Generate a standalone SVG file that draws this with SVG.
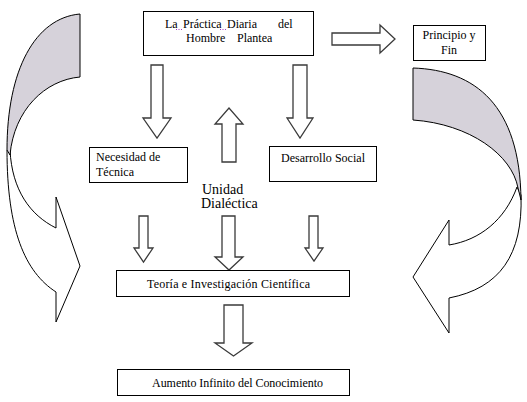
<svg xmlns="http://www.w3.org/2000/svg" width="527" height="402" viewBox="0 0 527 402">
<style>
.box{fill:#fff;stroke:#000;stroke-width:1}
.blk{fill:#fff;stroke:#3a3a3a;stroke-width:1.3;stroke-linejoin:miter}
.crv{fill:#fff;stroke:#000;stroke-width:1}
.back{fill:#d6d2da;stroke:#000;stroke-width:1}
text{font-family:'Liberation Serif','DejaVu Serif','Times New Roman',serif;font-size:12px;fill:#000}
.big{font-size:14px}
.dot{stroke:#a040c0;stroke-width:1;stroke-dasharray:1,1.5}
</style>
<rect width="527" height="402" fill="#fff"/>
<g id="curves">
<g id="left-curved-arrow">
<path class="crv" d="M7,150 C7,230 25,272 56,292 L56,322 L80,266 L56,197 L56,228 C30,215 12,190 10,150 Z"/>
<path class="back" d="M80,14 C35,18 7,70 7,150 L10,155 C14,110 45,80 80,77 Z"/>
</g>
<g id="right-curved-arrow">
<path class="crv" d="M521,195 C523,255 500,288 449,298 L449,333 L413,277 L449,220 L449,245 C480,240 505,220 517,187 Z"/>
<path class="back" d="M413,68 C475,70 520,105 521,200 L518,188 C512,155 470,124 413,120 Z"/>
</g>
</g>
<g id="connectors">
<path class="blk" d="M151,65 H163 V118 H171 L157,138 L143,118 H151 Z"/>
<path class="blk" d="M293,65 H307 V118 H313 L300,138 L287,118 H293 Z"/>
<path class="blk" d="M222,162 V124 H215 L229,108 L243,124 H236 V162 Z"/>
<path class="blk" d="M332,33 H380 V25 L395,39 L380,53 V45 H332 Z"/>
<path class="blk" d="M139,216 H148 V248 H153 L143.5,262 L134,248 H139 Z"/>
<path class="blk" d="M222,216 H235 V257 H243 L229,270 L215,257 H222 Z"/>
<path class="blk" d="M309,216 H318 V248 H323 L314,261 L305,248 H309 Z"/>
<path class="blk" d="M224,305 H243 V343 H252 L233.5,356 L215,343 H224 Z"/>
</g>
<g id="node-practica">
<rect class="box" x="143.5" y="11.5" width="170" height="44"/>
<text x="165" y="28" font-family="Liberation Serif, serif">La</text>
<text x="183" y="28" font-family="Liberation Serif, serif">Práctica</text>
<text x="227" y="28" font-family="Liberation Serif, serif">Diaria</text>
<text x="278" y="28" font-family="Liberation Serif, serif">del</text>
<line class="dot" x1="176" y1="29.5" x2="183" y2="29.5"/>
<line class="dot" x1="220" y1="29.5" x2="227" y2="29.5"/>
<text x="186" y="42" font-family="Liberation Serif, serif">Hombre</text>
<text x="237" y="42" font-family="Liberation Serif, serif">Plantea</text>
</g>
<g id="node-principio">
<rect class="box" x="413.5" y="25.5" width="72" height="35"/>
<text x="449" y="39" text-anchor="middle" font-family="Liberation Serif, serif">Principio y</text>
<text x="449" y="54" text-anchor="middle" font-family="Liberation Serif, serif">Fin</text>
</g>
<g id="node-necesidad">
<rect class="box" x="89.5" y="147.5" width="98" height="35"/>
<text x="96" y="161" font-family="Liberation Serif, serif">Necesidad de</text>
<text x="96" y="176" font-family="Liberation Serif, serif">Técnica</text>
</g>
<g id="node-desarrollo">
<rect class="box" x="269.5" y="146.5" width="107" height="35"/>
<text x="323" y="162" text-anchor="middle" textLength="84" font-family="Liberation Serif, serif">Desarrollo Social</text>
</g>
<g id="node-unidad">
<text class="big" x="202" y="194" font-family="Liberation Serif, serif">Unidad</text>
<text class="big" x="201" y="208" font-family="Liberation Serif, serif">Dialéctica</text>
</g>
<g id="node-teoria">
<rect class="box" x="116.5" y="270.5" width="233" height="26"/>
<text x="228.5" y="288" text-anchor="middle" textLength="163" font-family="Liberation Serif, serif">Teoría e Investigación Científica</text>
</g>
<g id="node-aumento">
<rect class="box" x="117.5" y="369.5" width="232" height="26"/>
<text x="237.5" y="387" text-anchor="middle" textLength="171" font-family="Liberation Serif, serif">Aumento Infinito del Conocimiento</text>
</g>
</svg>
